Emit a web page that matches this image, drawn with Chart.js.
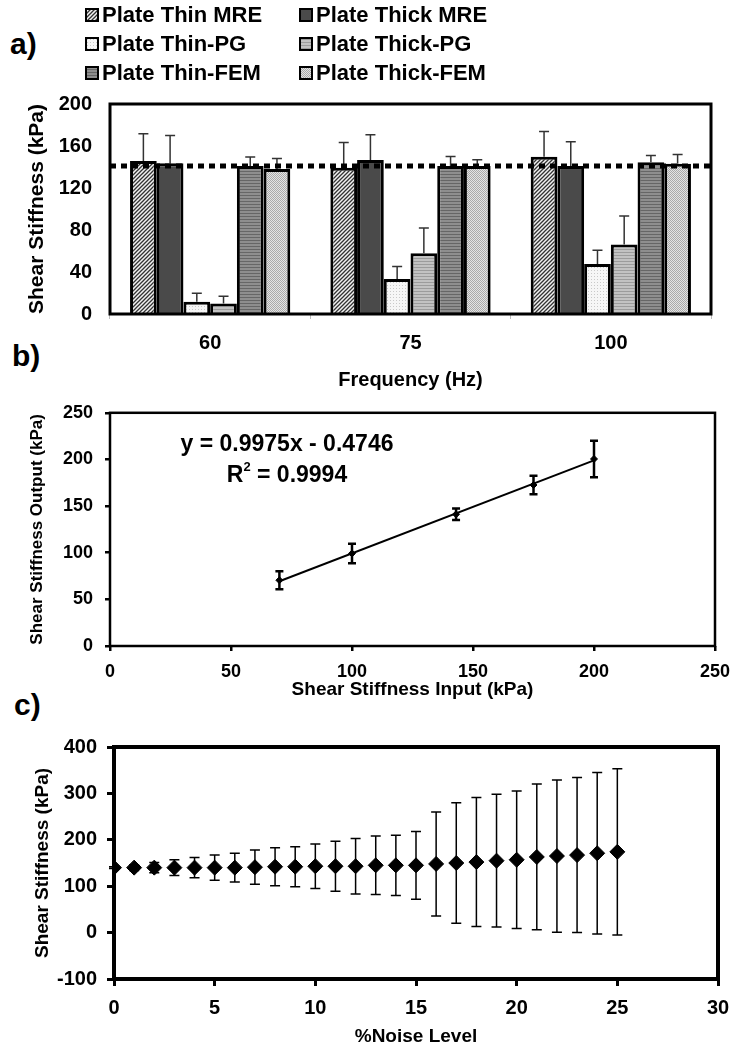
<!DOCTYPE html>
<html>
<head>
<meta charset="utf-8">
<script src="https://cdn.jsdelivr.net/npm/chart.js@4.4.1/dist/chart.umd.min.js"></script>
<style>
  html, body { margin: 0; padding: 0; background: #fff; }
  body { width: 749px; height: 1050px; position: relative; overflow: hidden;
         font-family: 'Liberation Sans', Arial, sans-serif; }
  canvas { position: absolute; left: 0; }
  .tag { position: absolute; font-weight: bold; font-size: 30px; line-height: 30px; color: #000; }
</style>
</head>
<body>
<div class="tag" style="left:10px; top:29px;">a)</div>
<div class="tag" style="left:12px; top:341px;">b)</div>
<div class="tag" style="left:14px; top:690px;">c)</div>
<canvas id="chartA" width="749" height="395" style="top:0px"></canvas>
<canvas id="chartB" width="749" height="315" style="top:390px"></canvas>
<canvas id="chartC" width="749" height="345" style="top:705px"></canvas>
<script>
// ---- panel a: bar chart data ----
const frequencies = ['60', '75', '100'];
const thinMRE = [145.7, 139.4, 149.8];
const thinMREErr = [26, 24, 24];
const thickMRE = [143.5, 146.7, 141];
const thickMREErr = [26.5, 24, 23];
const thinPG = [11.7, 33.3, 47.6];
const thinPGErr = [8, 12, 13];
const thickPG = [10, 57.8, 66.3];
const thickPGErr = [7, 24, 27];
const thinFEM = [141, 141, 144.5];
const thinFEMErr = [8.5, 9, 6.5];
const thickFEM = [138, 141, 143];
const thickFEMErr = [10, 6, 9];
const trueStiffness = 141;

// ---- panel b: input vs output ----
const inputKPa = [70, 100, 143, 175, 200];
const outputKPa = [70.5, 99.2, 141.2, 172.6, 200.5];
const outputErr = [9.7, 10.4, 6.2, 10, 19.6];
const fitX = [70, 200];
const fitY = [69.4, 199.0];
const fitEquation = 'y = 0.9975x - 0.4746';
const fitR2 = '0.9994';

// ---- panel c: noise level ----
const noiseLevel = [0, 1, 2, 3, 4, 5, 6, 7, 8, 9, 10, 11, 12, 13, 14, 15, 16, 17, 18, 19, 20, 21, 22, 23, 24, 25];
const noiseMean = [140, 140, 140, 140, 140, 140, 140, 141, 142, 142, 143, 143, 143, 145, 145, 145, 148, 150, 152, 155, 157, 163, 165, 167, 171, 174];
const noiseErr = [2, 6, 11, 17, 22, 27, 31, 37, 41, 43, 48, 54, 60, 63, 65, 73, 112, 130, 139, 143, 148, 157, 164, 167, 174, 179];

const FONT = "'Liberation Sans', Arial, Helvetica, sans-serif";
Chart.defaults.font.family = FONT;
Chart.defaults.font.weight = 'bold';
Chart.defaults.color = '#000';

// fill patterns for the grey-scale bars
function makePattern(size, bg, draw) {
  const c = document.createElement('canvas');
  c.width = size; c.height = size;
  const g = c.getContext('2d');
  g.fillStyle = bg;
  g.fillRect(0, 0, size, size);
  if (draw) draw(g, size);
  return g.createPattern(c, 'repeat');
}
const hatch = makePattern(4, '#f2f2f2', (g, s) => {
  g.strokeStyle = '#333'; g.lineWidth = 1.3;
  g.beginPath();
  g.moveTo(0, s); g.lineTo(s, 0);
  g.moveTo(-1, 1); g.lineTo(1, -1);
  g.moveTo(s - 1, s + 1); g.lineTo(s + 1, s - 1);
  g.stroke();
});
const lightDots = makePattern(3, '#f6f6f6', (g) => { g.fillStyle = '#c9c9c9'; g.fillRect(0, 0, 1, 1); });
const lightLines = makePattern(3, '#c2c2c2', (g) => { g.fillStyle = '#9c9c9c'; g.fillRect(0, 0, 3, 1); });
const midLines = makePattern(3, '#8e8e8e', (g) => { g.fillStyle = '#666'; g.fillRect(0, 0, 3, 1); });
const checker = makePattern(2, '#e4e4e4', (g) => { g.fillStyle = '#aaa'; g.fillRect(0, 0, 1, 1); g.fillRect(1, 1, 1, 1); });

// error bars drawn through the y scale
const errorBars = {
  id: 'errorBars',
  draw(chart, opts) {
    const ctx = chart.ctx;
    const yScale = chart.scales.y;
    ctx.save();
    ctx.strokeStyle = opts.color;
    ctx.lineWidth = opts.width;
    chart.data.datasets.forEach((ds, i) => {
      if (!ds.errors) return;
      chart.getDatasetMeta(i).data.forEach((el, j) => {
        const raw = ds.data[j];
        const v = typeof raw === 'object' ? raw.y : raw;
        const e = ds.errors[j];
        const x = el.x;
        const top = yScale.getPixelForValue(v + e);
        const bot = opts.upOnly ? el.y : yScale.getPixelForValue(v - e);
        ctx.beginPath();
        ctx.moveTo(x, bot); ctx.lineTo(x, top);
        ctx.moveTo(x - opts.cap, top); ctx.lineTo(x + opts.cap, top);
        if (!opts.upOnly) { ctx.moveTo(x - opts.cap, bot); ctx.lineTo(x + opts.cap, bot); }
        ctx.stroke();
      });
    });
    ctx.restore();
  },
  beforeDatasetsDraw(chart, args, opts) { if (opts.behind) this.draw(chart, opts); },
  afterDatasetsDraw(chart, args, opts) { if (!opts.behind) this.draw(chart, opts); }
};

// box round the plot area
const frame = {
  id: 'frame',
  afterDraw(chart, args, opts) {
    const a = chart.chartArea;
    const ctx = chart.ctx;
    ctx.save();
    ctx.strokeStyle = '#000';
    ctx.lineWidth = opts.width;
    ctx.strokeRect(a.left, a.top, a.right - a.left, a.bottom - a.top);
    ctx.restore();
  }
};

// dotted reference line for panel a
const refLine = {
  id: 'refLine',
  afterDatasetsDraw(chart) {
    const ctx = chart.ctx;
    const y = chart.scales.y.getPixelForValue(trueStiffness);
    ctx.save();
    ctx.strokeStyle = '#000';
    ctx.lineWidth = 5;
    ctx.setLineDash([6, 5]);
    ctx.beginPath();
    ctx.moveTo(chart.chartArea.left, y);
    ctx.lineTo(chart.chartArea.right, y);
    ctx.stroke();
    ctx.restore();
  }
};

// two column legend above panel a
const twoColLegend = {
  id: 'twoColLegend',
  afterDraw(chart, args, opts) {
    const ctx = chart.ctx;
    ctx.save();
    chart.data.datasets.forEach((ds, i) => {
      const x = opts.x[i % 2];
      const y = opts.y[Math.floor(i / 2)];
      ctx.fillStyle = ds.backgroundColor;
      ctx.fillRect(x - 6, y - 6, 12, 12);
      ctx.lineWidth = 2;
      ctx.strokeStyle = '#000';
      ctx.strokeRect(x - 6, y - 6, 12, 12);
      ctx.fillStyle = '#000';
      ctx.font = 'bold 22px ' + FONT;
      ctx.textBaseline = 'middle';
      ctx.fillText(ds.label, x + 10, y + 1);
    });
    ctx.restore();
  }
};

// regression text for panel b
const fitText = {
  id: 'fitText',
  afterDraw(chart, args, opts) {
    const ctx = chart.ctx;
    ctx.save();
    ctx.fillStyle = '#000';
    ctx.font = 'bold 23px ' + FONT;
    ctx.textBaseline = 'middle';
    ctx.textAlign = 'center';
    ctx.fillText(fitEquation, opts.cx, opts.y1);
    const rest = ' = ' + fitR2;
    ctx.textAlign = 'left';
    const wR = ctx.measureText('R').width;
    const wRest = ctx.measureText(rest).width;
    ctx.font = 'bold 13px ' + FONT;
    const w2 = ctx.measureText('2').width;
    const start = opts.cx - (wR + w2 + wRest) / 2;
    ctx.font = 'bold 23px ' + FONT;
    ctx.fillText('R', start, opts.y2);
    ctx.fillText(rest, start + wR + w2, opts.y2);
    ctx.font = 'bold 13px ' + FONT;
    ctx.fillText('2', start + wR, opts.y2 - 9);
    ctx.restore();
  }
};

const tickFont = (size) => ({ family: FONT, size: size, weight: 'bold' });

// ---------- panel a ----------
const seriesA = [
  ['Plate Thin MRE', thinMRE, thinMREErr, hatch],
  ['Plate Thick MRE', thickMRE, thickMREErr, '#4a4a4a'],
  ['Plate Thin-PG', thinPG, thinPGErr, lightDots],
  ['Plate Thick-PG', thickPG, thickPGErr, lightLines],
  ['Plate Thin-FEM', thinFEM, thinFEMErr, midLines],
  ['Plate Thick-FEM', thickFEM, thickFEMErr, checker]
];

new Chart(document.getElementById('chartA'), {
  type: 'bar',
  data: {
    labels: frequencies,
    datasets: seriesA.map(([label, values, errs, fill]) => ({
      label: label,
      data: values,
      errors: errs,
      backgroundColor: fill,
      borderColor: '#000',
      borderWidth: 3,
      categoryPercentage: 0.8,
      barPercentage: 1.0
    }))
  },
  options: {
    responsive: false,
    animation: false,
    layout: { padding: { top: 104, right: 38, left: 0, bottom: 0 } },
    plugins: {
      legend: { display: false },
      tooltip: { enabled: false },
      errorBars: { color: '#333', width: 1.5, cap: 5, upOnly: true },
      frame: { width: 3 },
      twoColLegend: { x: [92, 306], y: [15, 44, 73] }
    },
    scales: {
      x: {
        grid: { display: true, drawOnChartArea: false, drawTicks: true, tickLength: 5, color: '#bbb', offset: true },
        border: { display: false },
        ticks: { font: tickFont(20), color: '#000', padding: 12 },
        title: { display: true, text: 'Frequency (Hz)', font: tickFont(20), color: '#000', padding: { top: 0, bottom: 3 } },
        afterFit(s) { s.height = 81; }
      },
      y: {
        min: 0, max: 200,
        grid: { display: false, drawTicks: false },
        border: { display: false },
        ticks: { stepSize: 40, font: tickFont(20), color: '#000', padding: 18 },
        title: { display: true, text: 'Shear Stiffness (kPa)', font: tickFont(21), color: '#000', padding: { top: 25, bottom: 0 } },
        afterFit(s) { s.width = 110; }
      }
    }
  },
  plugins: [errorBars, refLine, frame, twoColLegend]
});

// ---------- panel b ----------
new Chart(document.getElementById('chartB'), {
  type: 'scatter',
  data: {
    datasets: [
      {
        label: 'Output',
        data: inputKPa.map((x, i) => ({ x: x, y: outputKPa[i] })),
        errors: outputErr,
        pointStyle: 'rectRot',
        pointRadius: 3.5,
        backgroundColor: '#000',
        borderColor: '#000'
      },
      {
        type: 'line',
        label: 'Linear fit',
        data: fitX.map((x, i) => ({ x: x, y: fitY[i] })),
        borderColor: '#000',
        borderWidth: 2,
        pointRadius: 0,
        fill: false
      }
    ]
  },
  options: {
    responsive: false,
    animation: false,
    layout: { padding: { top: 12, right: 34, left: 0, bottom: 0 } },
    plugins: {
      legend: { display: false },
      tooltip: { enabled: false },
      errorBars: { color: '#000', width: 2.5, cap: 4, upOnly: false, behind: true },
      frame: { width: 2.5 },
      fitText: { cx: 287, y1: 55, y2: 86 }
    },
    scales: {
      x: {
        type: 'linear', min: 0, max: 250,
        grid: { display: true, drawOnChartArea: false, drawTicks: true, tickLength: 5, color: '#000', lineWidth: 2.5 },
        border: { display: false },
        ticks: { stepSize: 50, font: tickFont(18), color: '#000', padding: 10 },
        title: { display: true, text: 'Shear Stiffness Input (kPa)', font: tickFont(19), color: '#000', padding: { top: 0, bottom: 4 } },
        afterFit(s) { s.height = 59; }
      },
      y: {
        min: 0, max: 250,
        grid: { display: true, drawOnChartArea: false, drawTicks: true, tickLength: 5, color: '#000', lineWidth: 2.5 },
        border: { display: false },
        ticks: { stepSize: 50, font: tickFont(18), color: '#000', padding: 12 },
        title: { display: true, text: 'Shear Stiffness Output (kPa)', font: tickFont(17), color: '#000', padding: { top: 27, bottom: 0 } },
        afterFit(s) { s.width = 110; }
      }
    }
  },
  plugins: [errorBars, frame, fitText]
});

// ---------- panel c ----------
new Chart(document.getElementById('chartC'), {
  type: 'scatter',
  data: {
    datasets: [{
      label: 'Shear Stiffness',
      data: noiseLevel.map((x, i) => ({ x: x, y: noiseMean[i] })),
      errors: noiseErr,
      pointStyle: 'rectRot',
      pointRadius: 7.5,
      backgroundColor: '#000',
      borderColor: '#000'
    }]
  },
  options: {
    responsive: false,
    animation: false,
    layout: { padding: { top: 42, right: 31, left: 0, bottom: 0 } },
    plugins: {
      legend: { display: false },
      tooltip: { enabled: false },
      errorBars: { color: '#000', width: 1.5, cap: 5, upOnly: false, behind: true },
      frame: { width: 4 }
    },
    scales: {
      x: {
        type: 'linear', min: 0, max: 30,
        grid: { display: true, drawOnChartArea: false, drawTicks: true, tickLength: 7, color: '#000', lineWidth: 3 },
        border: { display: false },
        ticks: { stepSize: 5, font: tickFont(20), color: '#000', padding: 10 },
        title: { display: true, text: '%Noise Level', font: tickFont(19), color: '#000', padding: { top: 0, bottom: 2 } },
        afterFit(s) { s.height = 71; }
      },
      y: {
        min: -100, max: 400,
        grid: { display: true, drawOnChartArea: false, drawTicks: true, tickLength: 7, color: '#000', lineWidth: 3 },
        border: { display: false },
        ticks: { stepSize: 100, font: tickFont(20), color: '#000', padding: 10 },
        title: { display: true, text: 'Shear Stiffness (kPa)', font: tickFont(19), color: '#000', padding: { top: 31, bottom: 0 } },
        afterFit(s) { s.width = 114; }
      }
    }
  },
  plugins: [errorBars, frame]
});
</script>
</body>
</html>
